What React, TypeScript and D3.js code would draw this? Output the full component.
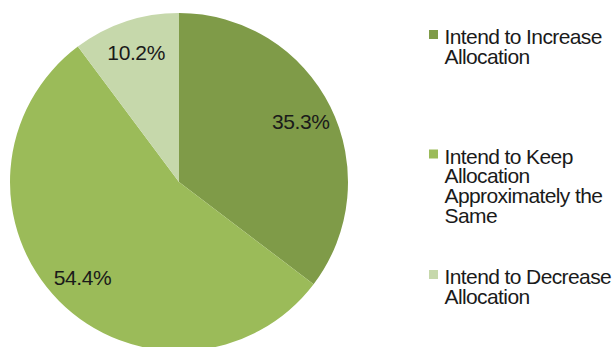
import React from "react";
import * as d3 from "d3";

const categories = [
  "Intend to Increase Allocation",
  "Intend to Keep Allocation Approximately the Same",
  "Intend to Decrease Allocation",
];
const values = [35.3, 54.4, 10.2];
const labels = ["35.3%", "54.4%", "10.2%"];
const legendLines = [
  ["Intend to Increase", "Allocation"],
  ["Intend to Keep", "Allocation", "Approximately the", "Same"],
  ["Intend to Decrease", "Allocation"],
];
const colors = ["#7f9b48", "#9bbb59", "#c6d8ab"];

export default function App() {
  const W = 615, H = 347;
  const cx = 179, cy = 182, r = 169;
  const pie = d3.pie<number>().sort(null).value((d) => d);
  const arcs = pie(values);
  const arc = d3.arc<d3.PieArcDatum<number>>().innerRadius(0).outerRadius(r);
  const labelArc = d3.arc<d3.PieArcDatum<number>>().innerRadius(136).outerRadius(136);
  const legendBase = [44, 163.5, 284];
  const lineH = 19.8;
  const font = "'Liberation Sans', Arial, sans-serif";
  return (
    <svg width={W} height={H} style={{ position: "absolute", left: 0, top: 0, background: "#fff" }}>
      <g transform={`translate(${cx},${cy})`}>
        {arcs.map((a, i) => (
          <path key={i} d={arc(a) || ""} fill={colors[i]}>
            <title>{categories[i]}</title>
          </path>
        ))}
        {arcs.map((a, i) => {
          const [x, y] = labelArc.centroid(a);
          return (
            <text key={i} x={x} y={y + 7.5} textAnchor="middle"
              fontFamily={font} fontSize={21} letterSpacing={-0.4} fill="#1a1a1a">{labels[i]}</text>
          );
        })}
      </g>
      {legendLines.map((lines, i) => (
        <g key={i}>
          <rect x={429} y={legendBase[i] - 14} width={9} height={9} fill={colors[i]} />
          {lines.map((t, j) => (
            <text key={j} x={444.5} y={legendBase[i] + j * lineH}
              fontFamily={font} fontSize={21} letterSpacing={-0.6} fill="#1a1a1a">{t}</text>
          ))}
        </g>
      ))}
    </svg>
  );
}
